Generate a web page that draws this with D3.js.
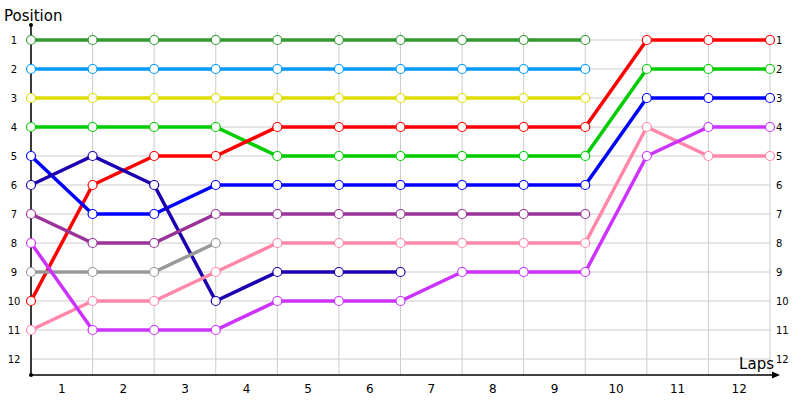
<!DOCTYPE html>
<html lang="en">
<head>
    <meta charset="UTF-8">
    <title>Lap Chart</title>
    <style>
        body { margin: 0; background: #fff; }
        text { font-family: "DejaVu Sans", Tahoma, sans-serif; }
    </style>
</head>
<body>
    <div id="chart"></div>

    <script src="https://cdnjs.cloudflare.com/ajax/libs/d3/7.8.5/d3.min.js"></script>
    <script>
        // Laps (points sit on lap boundaries 0..12, labels 1..12 sit between them)
        const lapPoints = [0, 1, 2, 3, 4, 5, 6, 7, 8, 9, 10, 11, 12];
        const lapLabels = ["1", "2", "3", "4", "5", "6", "7", "8", "9", "10", "11", "12"];
        const positions = [1, 2, 3, 4, 5, 6, 7, 8, 9, 10, 11, 12];

        // One array per driver, position per lap boundary (null = retired)
        const darkGreen = [1, 1, 1, 1, 1, 1, 1, 1, 1, 1, null, null, null];
        const lightBlue = [2, 2, 2, 2, 2, 2, 2, 2, 2, 2, null, null, null];
        const yellow    = [3, 3, 3, 3, 3, 3, 3, 3, 3, 3, null, null, null];
        const green     = [4, 4, 4, 4, 5, 5, 5, 5, 5, 5, 2, 2, 2];
        const red       = [10, 6, 5, 5, 4, 4, 4, 4, 4, 4, 1, 1, 1];
        const blue      = [5, 7, 7, 6, 6, 6, 6, 6, 6, 6, 3, 3, 3];
        const navy      = [6, 5, 6, 10, 9, 9, 9, null, null, null, null, null, null];
        const purple    = [7, 8, 8, 7, 7, 7, 7, 7, 7, 7, null, null, null];
        const grey      = [9, 9, 9, 8, null, null, null, null, null, null, null, null, null];
        const pink      = [11, 10, 10, 9, 8, 8, 8, 8, 8, 8, 4, 5, 5];
        const magenta   = [8, 11, 11, 11, 10, 10, 10, 9, 9, 9, 5, 4, 4];

        const seriesColors = ["#2f9a2f", "#0099ff", "#dddd00", "#00cc00", "#ff0000",
                              "#0000ff", "#1a00b0", "#993399", "#999999", "#ff88aa", "#cc33ff"];
        const seriesData = [darkGreen, lightBlue, yellow, green, red,
                            blue, navy, purple, grey, pink, magenta];

        const width = 800, height = 400;

        const svg = d3.select("#chart")
            .append("svg")
            .attr("width", width)
            .attr("height", height);

        // Scales
        const x = d3.scaleLinear().domain([0, 12]).range([31, 770]);
        const y = d3.scaleLinear().domain([1, 12]).range([40, 359]);
        const axisY = 375;

        // Grid
        svg.append("g")
            .selectAll("line")
            .data(lapPoints)
            .join("line")
            .attr("x1", d => x(d)).attr("x2", d => x(d))
            .attr("y1", 32).attr("y2", axisY)
            .attr("stroke", "#cccccc");

        svg.append("g")
            .selectAll("line")
            .data(positions)
            .join("line")
            .attr("x1", x(0)).attr("x2", x(12))
            .attr("y1", d => y(d)).attr("y2", d => y(d))
            .attr("stroke", "#cccccc");

        // Axes
        svg.append("line")
            .attr("x1", x(0)).attr("x2", x(0))
            .attr("y1", 25).attr("y2", axisY)
            .attr("stroke", "#000").attr("stroke-width", 1.5);
        svg.append("line")
            .attr("x1", x(0)).attr("x2", 774)
            .attr("y1", axisY).attr("y2", axisY)
            .attr("stroke", "#000").attr("stroke-width", 1.5);
        svg.append("path")
            .attr("d", "M772,371.5 L780,375 L772,378.5 Z")
            .attr("fill", "#000");
        svg.append("circle").attr("cx", x(0)).attr("cy", 25).attr("r", 2).attr("fill", "#000");
        svg.append("circle").attr("cx", x(0)).attr("cy", axisY).attr("r", 2).attr("fill", "#000");

        // Tick labels
        svg.append("g")
            .selectAll("text")
            .data(positions)
            .join("text")
            .attr("x", 14).attr("y", d => y(d) + 4)
            .attr("text-anchor", "middle")
            .attr("font-size", 10)
            .text(d => d);

        svg.append("g")
            .selectAll("text")
            .data(positions)
            .join("text")
            .attr("x", 776).attr("y", d => y(d) + 4)
            .attr("font-size", 10)
            .text(d => d);

        svg.append("g")
            .selectAll("text")
            .data(lapLabels)
            .join("text")
            .attr("x", (d, i) => x(i + 0.5)).attr("y", 393)
            .attr("text-anchor", "middle")
            .attr("font-size", 12)
            .text(d => d);

        svg.append("text")
            .attr("x", 4).attr("y", 21)
            .attr("font-size", 15)
            .text("Position");

        svg.append("text")
            .attr("x", 774).attr("y", 369)
            .attr("text-anchor", "end")
            .attr("font-size", 15)
            .text("Laps");

        // Lines and markers
        const line = d3.line()
            .defined(d => d.pos !== null)
            .x(d => x(d.lap))
            .y(d => y(d.pos));

        seriesData.forEach(function(values, i) {
            const pts = values.map((v, j) => ({ lap: lapPoints[j], pos: v }));
            const g = svg.append("g");
            g.append("path")
                .datum(pts)
                .attr("d", line)
                .attr("fill", "none")
                .attr("stroke", seriesColors[i])
                .attr("stroke-width", 3.5);
            g.selectAll("circle")
                .data(pts.filter(d => d.pos !== null))
                .join("circle")
                .attr("cx", d => x(d.lap))
                .attr("cy", d => y(d.pos))
                .attr("r", 4.5)
                .attr("fill", "#fff")
                .attr("stroke", seriesColors[i])
                .attr("stroke-width", 1.2);
        });
    </script>
</body>
</html>
